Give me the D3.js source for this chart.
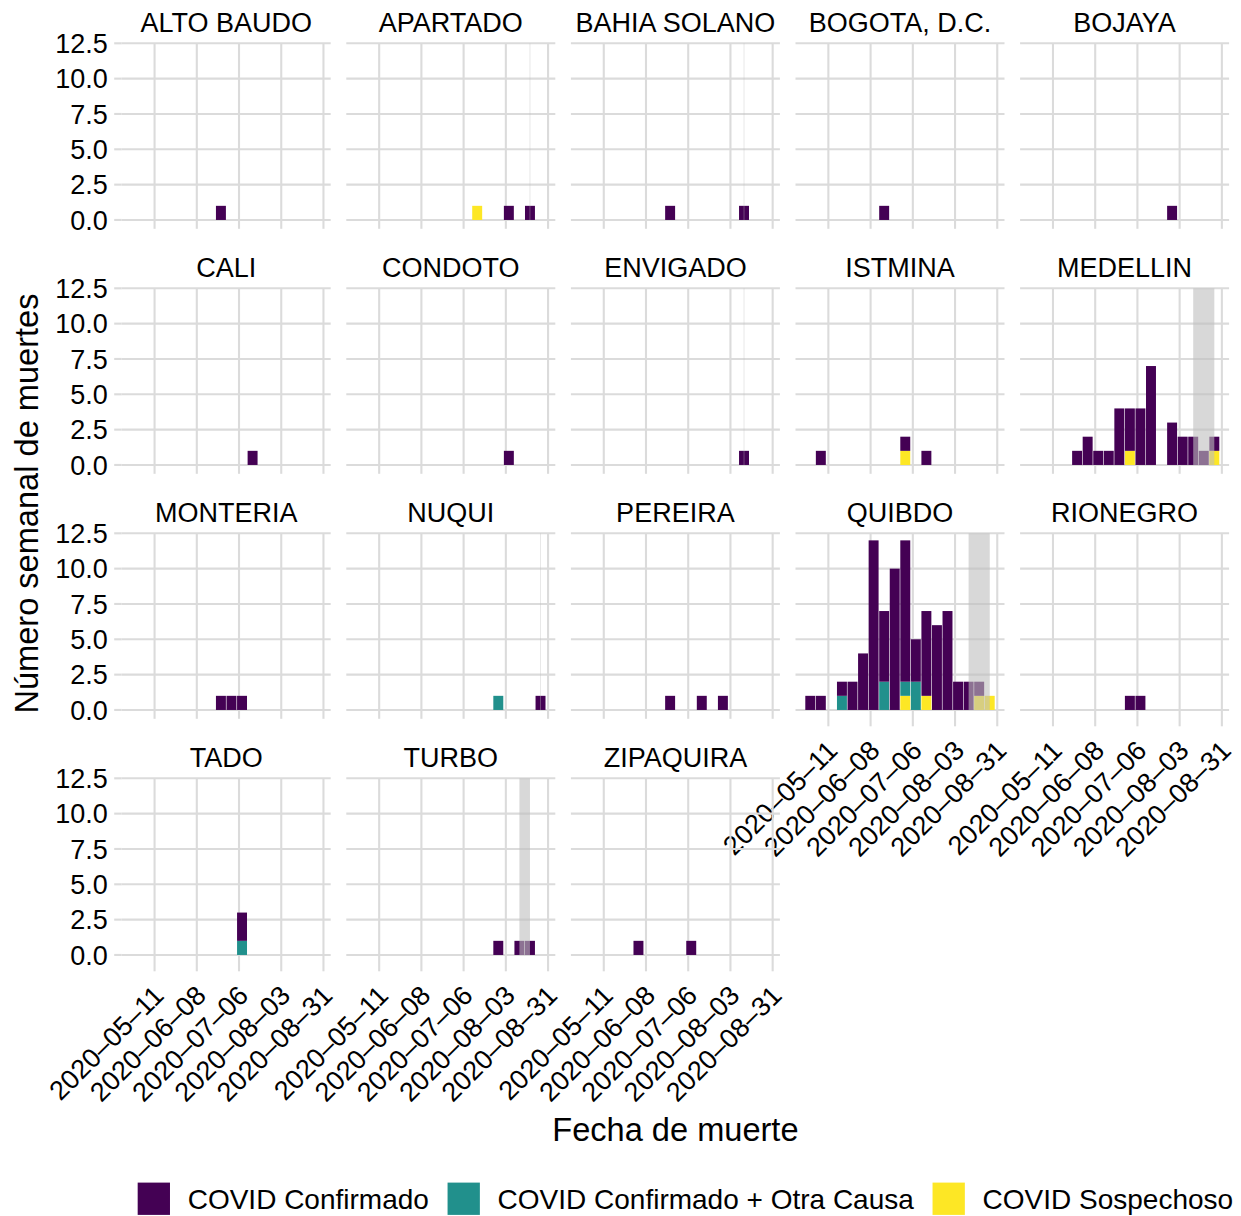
<!DOCTYPE html>
<html><head><meta charset="utf-8">
<script src="https://cdn.jsdelivr.net/npm/d3@7"></script>
<style>
body{margin:0;background:#fff}
text{font-family:"Liberation Sans",Arial,Helvetica,sans-serif;fill:#000}
</style>
</head><body>
<svg id="chart" width="1241" height="1216"></svg>
<script>
// ---------------- DATA ----------------
const municipios = ["ALTO BAUDO","APARTADO","BAHIA SOLANO","BOGOTA, D.C.","BOJAYA",
  "CALI","CONDOTO","ENVIGADO","ISTMINA","MEDELLIN",
  "MONTERIA","NUQUI","PEREIRA","QUIBDO","RIONEGRO",
  "TADO","TURBO","ZIPAQUIRA"];

const categorias = ["COVID Confirmado","COVID Confirmado + Otra Causa","COVID Sospechoso"];
const colores = ["#440154","#21908C","#FDE725"];

// [municipio, semana (centro), muertes]
const confirmado = [
  ["ALTO BAUDO","2020-06-24",1],
  ["APARTADO","2020-08-05",1],["APARTADO","2020-08-19",1],
  ["BAHIA SOLANO","2020-06-24",1],["BAHIA SOLANO","2020-08-12",1],
  ["BOGOTA, D.C.","2020-06-17",1],
  ["BOJAYA","2020-07-29",1],
  ["CALI","2020-07-15",1],
  ["CONDOTO","2020-08-05",1],
  ["ENVIGADO","2020-08-12",1],
  ["ISTMINA","2020-05-06",1],["ISTMINA","2020-07-01",1],["ISTMINA","2020-07-15",1],
  ["MEDELLIN","2020-05-27",1],["MEDELLIN","2020-06-03",2],["MEDELLIN","2020-06-10",1],
  ["MEDELLIN","2020-06-17",1],["MEDELLIN","2020-06-24",4],["MEDELLIN","2020-07-01",3],
  ["MEDELLIN","2020-07-08",4],["MEDELLIN","2020-07-15",7],["MEDELLIN","2020-07-29",3],
  ["MEDELLIN","2020-08-05",2],["MEDELLIN","2020-08-12",2],["MEDELLIN","2020-08-19",1],
  ["MEDELLIN","2020-08-26",1],
  ["MONTERIA","2020-06-24",1],["MONTERIA","2020-07-01",1],["MONTERIA","2020-07-08",1],
  ["NUQUI","2020-08-26",1],
  ["PEREIRA","2020-06-24",1],["PEREIRA","2020-07-15",1],["PEREIRA","2020-07-29",1],
  ["QUIBDO","2020-04-29",1],["QUIBDO","2020-05-06",1],["QUIBDO","2020-05-20",1],
  ["QUIBDO","2020-05-27",2],["QUIBDO","2020-06-03",4],["QUIBDO","2020-06-10",12],
  ["QUIBDO","2020-06-17",5],["QUIBDO","2020-06-24",10],["QUIBDO","2020-07-01",10],
  ["QUIBDO","2020-07-08",3],["QUIBDO","2020-07-15",6],["QUIBDO","2020-07-22",6],
  ["QUIBDO","2020-07-29",7],["QUIBDO","2020-08-05",2],["QUIBDO","2020-08-12",2],
  ["QUIBDO","2020-08-19",1],
  ["RIONEGRO","2020-07-01",1],["RIONEGRO","2020-07-08",1],
  ["TADO","2020-07-08",2],
  ["TURBO","2020-07-29",1],["TURBO","2020-08-12",1],["TURBO","2020-08-19",1],
  ["ZIPAQUIRA","2020-06-03",1],["ZIPAQUIRA","2020-07-08",1]
];
const confirmadoOtraCausa = [
  ["NUQUI","2020-07-29",1],
  ["QUIBDO","2020-05-20",1],["QUIBDO","2020-06-17",2],["QUIBDO","2020-07-01",1],
  ["QUIBDO","2020-07-08",2],
  ["TADO","2020-07-08",1]
];
const sospechoso = [
  ["APARTADO","2020-07-15",1],
  ["ISTMINA","2020-07-01",1],
  ["MEDELLIN","2020-07-01",1],["MEDELLIN","2020-08-26",1],
  ["QUIBDO","2020-07-01",1],["QUIBDO","2020-07-15",1],["QUIBDO","2020-08-19",1],
  ["QUIBDO","2020-08-26",1]
];
// shaded period (inicio, fin)
const periodoSombreado = [
  ["APARTADO","2020-08-19","2020-08-19"],
  ["BAHIA SOLANO","2020-08-12","2020-08-12"],
  ["ENVIGADO","2020-08-12","2020-08-12"],
  ["MEDELLIN","2020-08-12","2020-08-26"],
  ["NUQUI","2020-08-26","2020-08-26"],
  ["QUIBDO","2020-08-12","2020-08-26"],
  ["TURBO","2020-08-12","2020-08-19"]
];
const xTickLabels = ["2020-05-11","2020-06-08","2020-07-06","2020-08-03","2020-08-31"];
const yTickValues = [0, 2.5, 5, 7.5, 10, 12.5];
const yMax = 12.5;

// ---------------- LAYOUT ----------------
const svg = d3.select("#chart");
const nCol = 5;
const panelW = 209, panelH = 185.5;
const colStride = 224.6, rowStride = 245;
const left0 = 121.7, top0 = 43.3;
const gridColor = "#dbdbdb";
const smallFont = 27, titleFont = 32.6, legendFont = 28;

const parse = d3.utcParse("%Y-%m-%d");
const DAY = 864e5;
const fmt = d3.utcFormat("%Y\u2013%m\u2013%d");

const series = [confirmado, confirmadoOtraCausa, sospechoso];
const allDates = series.flat().map(d => parse(d[1]));
const halfBar = 3.5 * DAY;
const lo = d3.min(allDates).getTime() - halfBar;
const hi = d3.max(allDates).getTime() + halfBar;
const pad = (hi - lo) * 0.05;

const x = d3.scaleUtc().domain([new Date(lo - pad), new Date(hi + pad)]).range([0, panelW]);
const y = d3.scaleLinear().domain([-yMax * 0.05, yMax]).range([panelH, 0]);
const color = d3.scaleOrdinal().domain(categorias).range(colores);

const xTicks = xTickLabels.map(parse);
const nRows = Math.ceil(municipios.length / nCol);

municipios.forEach((mun, i) => {
  const col = i % nCol, row = Math.floor(i / nCol);
  const px = left0 + col * colStride, py = top0 + row * rowStride;
  const g = svg.append("g").attr("transform", `translate(${px},${py})`);

  // grid
  g.selectAll("line.h").data(yTickValues).join("line")
    .attr("x1", 0).attr("x2", panelW)
    .attr("y1", d => y(d)).attr("y2", d => y(d))
    .attr("stroke", gridColor).attr("stroke-width", 2.1);
  const hasBelow = i + nCol < municipios.length;
  g.selectAll("line.v").data(xTicks).join("line")
    .attr("x1", d => x(d)).attr("x2", d => x(d))
    .attr("y1", 0).attr("y2", hasBelow ? panelH : panelH + 7.5)
    .attr("stroke", gridColor).attr("stroke-width", 2.1);
  if (col === 0) {
    g.selectAll("line.yt").data(yTickValues).join("line")
      .attr("x1", -7.5).attr("x2", 0)
      .attr("y1", d => y(d)).attr("y2", d => y(d))
      .attr("stroke", gridColor).attr("stroke-width", 2.1);
    g.selectAll("text.yl").data(yTickValues).join("text")
      .attr("x", -14).attr("y", d => y(d) + smallFont * 0.36)
      .attr("text-anchor", "end").attr("font-size", smallFont)
      .text(d => d3.format(".1f")(d));
  }

  // stacked data
  const byWeek = new Map();
  series.forEach((s, k) => {
    s.filter(d => d[0] === mun).forEach(d => {
      if (!byWeek.has(d[1])) byWeek.set(d[1], {semana: parse(d[1]), 0: 0, 1: 0, 2: 0});
      byWeek.get(d[1])[k] += d[2];
    });
  });
  const rows = Array.from(byWeek.values());
  const stack = d3.stack().keys([2, 1, 0])(rows);
  const barHalf = 3.3 * DAY;
  stack.forEach(layer => {
    const k = layer.key;
    g.append("g").selectAll("rect").data(layer.filter(d => d[1] > d[0])).join("rect")
      .attr("x", d => x(new Date(d.data.semana.getTime() - barHalf)))
      .attr("width", d => x(new Date(d.data.semana.getTime() + barHalf)) - x(new Date(d.data.semana.getTime() - barHalf)))
      .attr("y", d => y(d[1]))
      .attr("height", d => y(d[0]) - y(d[1]))
      .attr("fill", color(categorias[k]));
  });

  // shaded period (from 0 to yMax)
  periodoSombreado.filter(d => d[0] === mun).forEach(d => {
    const x0 = x(parse(d[1])), x1 = x(parse(d[2]));
    const thin = x1 - x0 < 0.6;
    g.append("rect").attr("x", thin ? x0 - 0.3 : x0).attr("width", thin ? 0.6 : x1 - x0)
      .attr("y", y(yMax)).attr("height", y(0) - y(yMax))
      .attr("fill", "#bebebe").attr("fill-opacity", 0.6);
  });

  // strip
  g.append("text").attr("x", panelW / 2).attr("y", -11.6)
    .attr("text-anchor", "middle").attr("font-size", smallFont)
    .text(mun);

  // x axis labels
  if (!hasBelow) {
    xTicks.forEach(t => {
      g.append("text")
        .attr("transform", `translate(${x(t) - 3},${panelH + 19.5}) rotate(-45)`)
        .attr("text-anchor", "end").attr("dy", "0.72em")
        .attr("font-size", smallFont)
        .text(fmt(t));
    });
  }
});

// axis titles
const panelsLeft = left0, panelsRight = left0 + 4 * colStride + panelW;
svg.append("text").attr("x", (panelsLeft + panelsRight) / 2).attr("y", 1141)
  .attr("text-anchor", "middle").attr("font-size", titleFont).text("Fecha de muerte");
const panelsTop = top0, panelsBottom = top0 + (nRows - 1) * rowStride + panelH;
svg.append("text")
  .attr("transform", `translate(38,${(panelsTop + panelsBottom) / 2}) rotate(-90)`)
  .attr("text-anchor", "middle").attr("font-size", titleFont)
  .text("Número semanal de muertes");

// legend
const leg = svg.append("g");
const keySize = 32.3, keyGap = 17.7, itemGap = 18.7;
let cx = 0;
categorias.forEach((c, k) => {
  const it = leg.append("g");
  it.append("rect").attr("x", 0).attr("y", 0).attr("width", keySize).attr("height", keySize)
    .attr("fill", color(c));
  const t = it.append("text").attr("x", keySize + keyGap).attr("y", keySize / 2 + legendFont * 0.36)
    .attr("font-size", legendFont).text(c);
  const w = keySize + keyGap + t.node().getComputedTextLength();
  it.attr("transform", `translate(${cx},0)`);
  cx += w + itemGap;
});
const totalW = cx - itemGap;
const legCenter = 685.4;
leg.attr("transform", `translate(${legCenter - totalW / 2},1182.6)`);
</script>
</body></html>
